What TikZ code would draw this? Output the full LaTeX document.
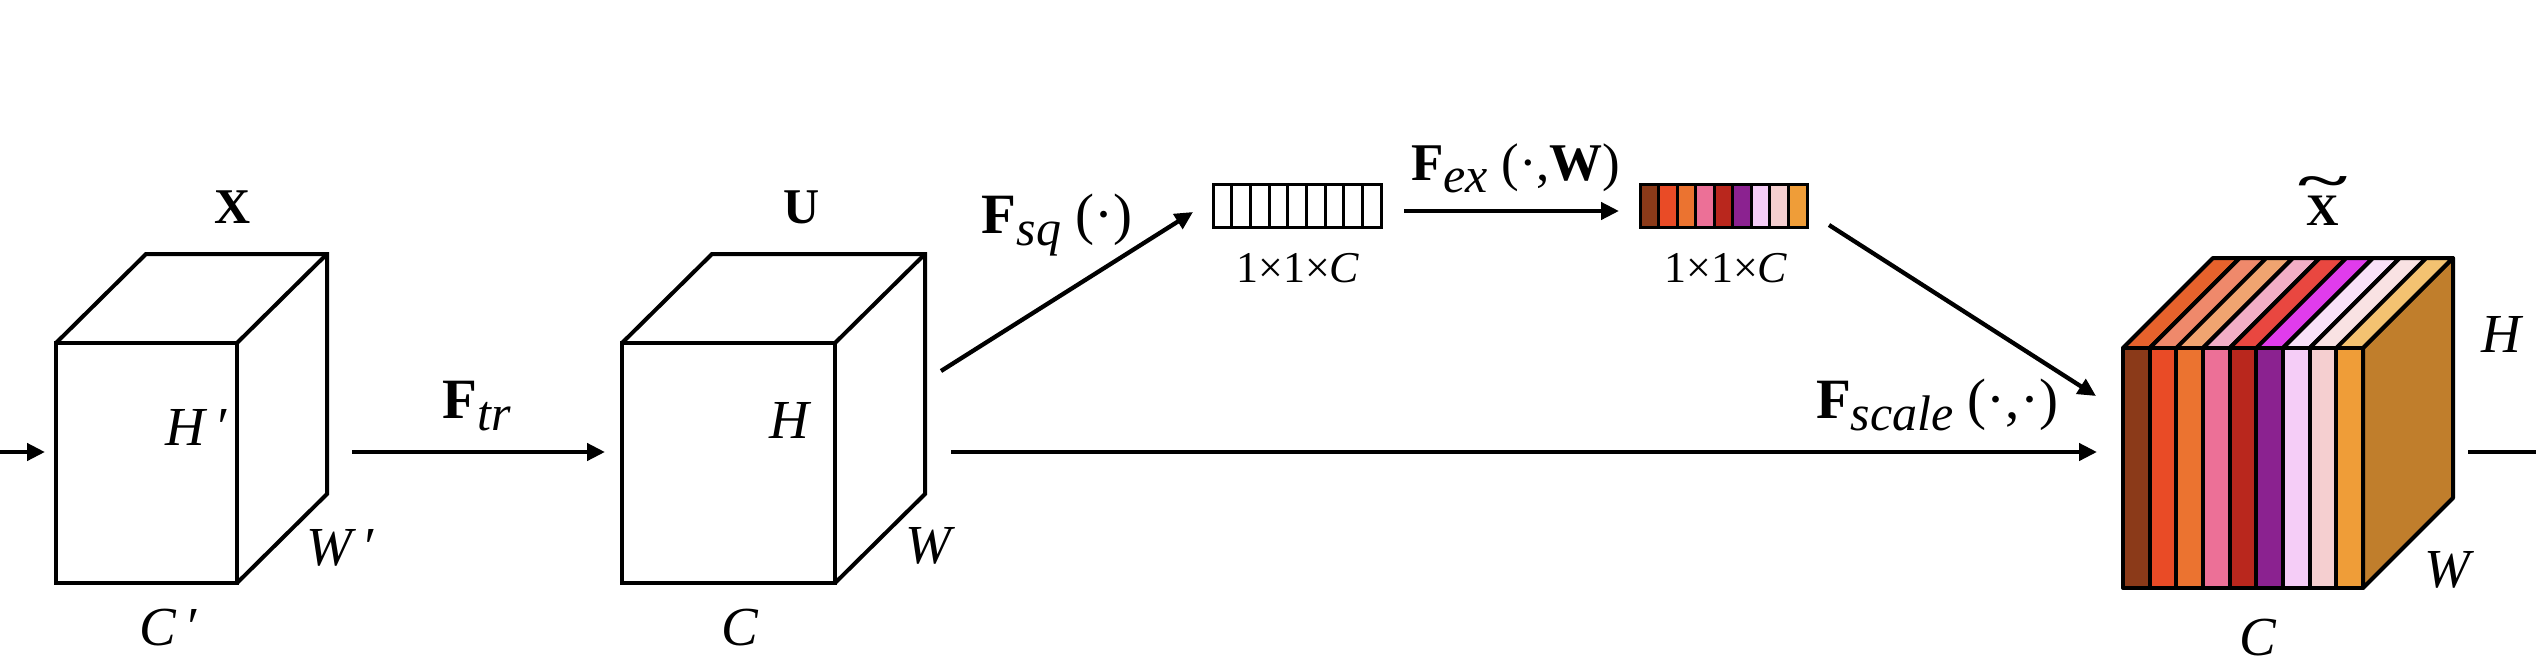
\documentclass[tikz,border=0pt]{standalone}
\usepackage{fontspec}
\setmainfont{Liberation Serif}
\usetikzlibrary{arrows.meta}
\definecolor{f1}{HTML}{8B3A19}
\definecolor{f2}{HTML}{E94B26}
\definecolor{f3}{HTML}{EB7330}
\definecolor{f4}{HTML}{EC7097}
\definecolor{f5}{HTML}{B9271D}
\definecolor{f6}{HTML}{8B2290}
\definecolor{f7}{HTML}{F5CDF7}
\definecolor{f8}{HTML}{F5CFD0}
\definecolor{f9}{HTML}{EF9D38}
\definecolor{t1}{HTML}{E6622C}
\definecolor{t2}{HTML}{EF896B}
\definecolor{t3}{HTML}{F0A470}
\definecolor{t4}{HTML}{F2AEC6}
\definecolor{t5}{HTML}{E94740}
\definecolor{t6}{HTML}{E03CEC}
\definecolor{t7}{HTML}{F9E1F8}
\definecolor{t8}{HTML}{F9E2E3}
\definecolor{t9}{HTML}{F3C271}
\definecolor{sidecol}{HTML}{C07E2C}
\tikzset{
  edge/.style={line width=4.3pt,-{Triangle[length=18pt,width=17pt]}},
  plainline/.style={line width=4.3pt},
  boxline/.style={line width=4pt,line join=miter},
  cubeline/.style={line width=4pt,line join=round},
  cellline/.style={line width=3pt},
  dimlab/.style={font=\fontsize{55}{55}\selectfont\itshape,inner sep=0pt,anchor=base},
  namelab/.style={font=\fontsize{50}{50}\selectfont\bfseries,inner sep=0pt,anchor=base},
  oplab/.style={font=\fontsize{57}{57}\selectfont,inner sep=0pt,anchor=base},
  sizelab/.style={font=\fontsize{44}{44}\selectfont,inner sep=0pt,anchor=base},
}
\newcommand\opF[1]{\textbf{F}\raisebox{-12pt}{\itshape\fontsize{50}{50}\selectfont #1}}
\newcommand\drawplainbox[4]{%
  \draw[boxline] (#1,#2) rectangle ++(#3,#4);
  \draw[boxline] (#1,#2) -- ++(90,-89) -- ++(#3,0) -- ++(0,#4) -- ++(-90,89);
  \draw[boxline] (#1+#3,#2) -- ++(90,-89);
}
\begin{document}
\begin{tikzpicture}[x=1pt,y=-1pt]
\useasboundingbox (0,0) rectangle (2536,670);

% ---- box X ----
\drawplainbox{56}{343}{181}{240}
\node[namelab] (lX) at (233,223) {X};
\node[dimlab] (lHp) at (196,445) {H\,′};
\node[dimlab] (lWp) at (340,565) {W\,′};
\node[dimlab] (lCp) at (168,645) {C\,′};

% ---- box U ----
\drawplainbox{622}{343}{213}{240}
\node[namelab] (lU) at (802,223) {U};
\node[dimlab] (lH) at (789,438) {H};
\node[dimlab] (lW) at (928,563) {W};
\node[dimlab] (lC) at (740,645) {C};

% ---- squeezed vector ----
\foreach \i in {0,...,8}
  \draw[cellline] ({1213+\i*18.667},184) rectangle ++(18.667,43);
\node[sizelab] (s1) at (1298,282) {1×1×\textit{C}};

% ---- excited vector ----
\foreach \c [count=\i from 0] in {f1,f2,f3,f4,f5,f6,f7,f8,f9}
  \filldraw[cellline,fill=\c] ({1640+\i*18.556},184) rectangle ++(18.556,43);
\node[sizelab] (s2) at (1726,282) {1×1×\textit{C}};

% ---- coloured cube ----
\filldraw[cubeline,fill=sidecol] (2363,348) -- (2453,258) -- (2453,498) -- (2363,588) -- cycle;
\foreach \c [count=\i from 0] in {t1,t2,t3,t4,t5,t6,t7,t8,t9}
  \filldraw[cubeline,fill=\c] ({2123+\i*26.667},348) -- ++(26.667,0) -- ++(90,-90) -- ++(-26.667,0) -- cycle;
\foreach \c [count=\i from 0] in {f1,f2,f3,f4,f5,f6,f7,f8,f9}
  \filldraw[cubeline,fill=\c] ({2123+\i*26.667},348) rectangle ++(26.667,240);
\node[namelab,font=\fontsize{45}{45}\selectfont\bfseries] (lXt) at (2323,225)
  {\ooalign{X\cr\hidewidth\raisebox{0.62em}{\scalebox{2.1}[1.1]{\textasciitilde}}\hidewidth\cr}};
\node[dimlab] (lH2) at (2501,352) {H};
\node[dimlab] (lW2) at (2447,587) {W};
\node[dimlab] (lC2) at (2258,655) {C};

% ---- connector end points ----
\coordinate (inStart) at (0,452);
\coordinate (inEnd) at (45,452);
\coordinate (trStart) at (352,452);
\coordinate (trEnd) at (605,452);
\coordinate (sqStart) at (941,371);
\coordinate (sqEnd) at (1193,212);
\coordinate (exStart) at (1404,211);
\coordinate (exEnd) at (1619,211);
\coordinate (scStart) at (1829,225);
\coordinate (scEnd) at (2096,396);
\coordinate (skStart) at (951,452);
\coordinate (skEnd) at (2097,452);
\coordinate (outStart) at (2468,452);
\coordinate (outEnd) at (2536,452);

\draw[edge] (inStart) -- (inEnd);
\draw[edge] (trStart) -- (trEnd);
\draw[edge] (sqStart) -- (sqEnd);
\draw[edge] (exStart) -- (exEnd);
\draw[edge] (scStart) -- (scEnd);
\draw[edge] (skStart) -- (skEnd);
\draw[plainline] (outStart) -- (outEnd);

% ---- operator labels ----
\node[oplab] (oTr) at (477,418) {\opF{tr}};
\node[oplab] (oSq) at (1057,233) {\opF{sq} (·)};
\node[oplab,font=\fontsize{53}{53}\selectfont] (oEx) at (1516,180) {\opF{ex} (·,\textbf{W})};
\node[oplab] (oSc) at (1937,418) {\opF{scale} (·,·)};
\end{tikzpicture}
\end{document}
